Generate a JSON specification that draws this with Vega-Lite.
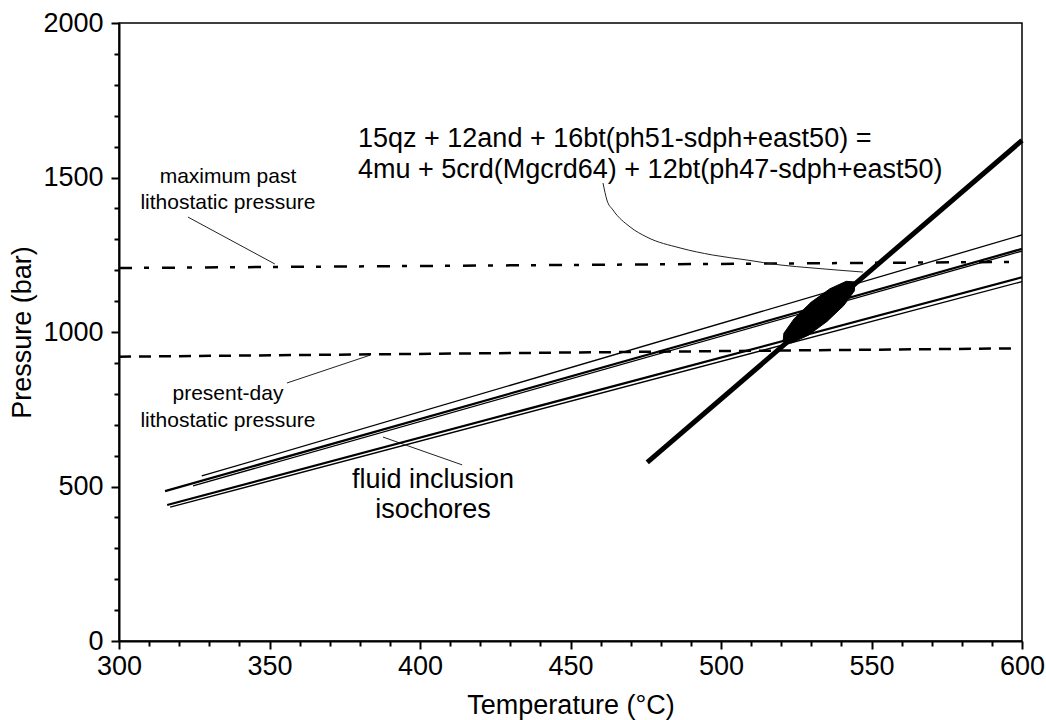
{
  "$schema": "https://vega.github.io/schema/vega-lite/v6.json",
  "width": 903,
  "height": 618,
  "autosize": {"type": "none"},
  "padding": {"left": 119, "top": 23, "right": 24, "bottom": 79},
  "background": "white",
  "config": {
    "view": {"stroke": "black", "strokeWidth": 1.5},
    "font": "Liberation Sans",
    "axis": {
      "grid": false,
      "domainColor": "black",
      "domainWidth": 2,
      "tickColor": "black",
      "tickWidth": 2,
      "labelColor": "black",
      "labelFont": "Liberation Sans",
      "labelFontSize": 27,
      "titleFont": "Liberation Sans",
      "titleFontSize": 27,
      "titleFontWeight": "normal",
      "titleColor": "black",
      "labelOverlap": false,
      "labelFlush": false
    }
  },
  "datasets": {
    "lines": [
      {"id": "reaction", "T": 475.5, "P": 578}, {"id": "reaction", "T": 600, "P": 1620},
      {"id": "A", "T": 327.5, "P": 534}, {"id": "A", "T": 600, "P": 1314},
      {"id": "B", "T": 315.3, "P": 485}, {"id": "B", "T": 600, "P": 1269},
      {"id": "B2", "T": 324.6, "P": 502}, {"id": "B2", "T": 600, "P": 1262},
      {"id": "D", "T": 316, "P": 440}, {"id": "D", "T": 600, "P": 1177},
      {"id": "E", "T": 317, "P": 433}, {"id": "E", "T": 600, "P": 1163},
      {"id": "maxpast", "T": 300, "P": 1207}, {"id": "maxpast", "T": 600, "P": 1227},
      {"id": "present", "T": 300, "P": 920}, {"id": "present", "T": 597, "P": 947},
      {"id": "lead1", "T": 322.9, "P": 1372}, {"id": "lead1", "T": 351.8, "P": 1220},
      {"id": "lead2", "T": 355.8, "P": 835}, {"id": "lead2", "T": 383.4, "P": 925},
      {"id": "lead3", "T": 387.7, "P": 660}, {"id": "lead3", "T": 414, "P": 570}
    ],
    "curve": [
      {"T": 460.8, "P": 1482}, {"T": 462.1, "P": 1427}, {"T": 464.1, "P": 1395},
      {"T": 469.8, "P": 1340}, {"T": 475.4, "P": 1307}, {"T": 486.4, "P": 1272},
      {"T": 497.3, "P": 1249}, {"T": 508.6, "P": 1233}, {"T": 519.6, "P": 1217},
      {"T": 530.6, "P": 1207}, {"T": 547.2, "P": 1194}
    ],
    "ellipse": [
      {"i": 0, "T": 544.5, "P": 1162}, {"i": 1, "T": 544.3, "P": 1133},
      {"i": 2, "T": 540.8, "P": 1086}, {"i": 3, "T": 535.2, "P": 1034},
      {"i": 4, "T": 528.9, "P": 989}, {"i": 5, "T": 523.5, "P": 965},
      {"i": 6, "T": 520.6, "P": 968}, {"i": 7, "T": 520.9, "P": 996},
      {"i": 8, "T": 524.3, "P": 1043}, {"i": 9, "T": 529.9, "P": 1096},
      {"i": 10, "T": 536.2, "P": 1140}, {"i": 11, "T": 541.6, "P": 1164},
      {"i": 12, "T": 544.5, "P": 1162}
    ],
    "labels": [
      {"T": 336.2, "P": 1482, "text": "maximum past"},
      {"T": 336.2, "P": 1398, "text": "lithostatic pressure"},
      {"T": 336.2, "P": 780, "text": "present-day"},
      {"T": 336.2, "P": 693, "text": "lithostatic pressure"}
    ],
    "biglabels": [
      {"T": 404.3, "P": 495, "text": "fluid inclusion"},
      {"T": 404.3, "P": 398, "text": "isochores"}
    ],
    "equation": [
      {"T": 379.4, "P": 1599, "text": "15qz + 12and + 16bt(ph51-sdph+east50) ="},
      {"T": 379.4, "P": 1498, "text": "4mu + 5crd(Mgcrd64) + 12bt(ph47-sdph+east50)"}
    ]
  },
  "encoding": {
    "x": {
      "field": "T", "type": "quantitative",
      "scale": {"domain": [300, 600], "nice": false, "zero": false},
      "axis": {
        "title": "Temperature (°C)",
        "values": [300,310,320,330,340,350,360,370,380,390,400,410,420,430,440,450,460,470,480,490,500,510,520,530,540,550,560,570,580,590,600],
        "labelExpr": "datum.value % 50 === 0 ? datum.label : ''",
        "tickSize": {"condition": {"test": "datum.value % 50 === 0", "value": 8}, "value": 5},
        "labelPadding": 4,
        "titlePadding": 13,
        "format": "d"
      }
    },
    "y": {
      "field": "P", "type": "quantitative",
      "scale": {"domain": [0, 2000], "nice": false},
      "axis": {
        "title": "Pressure (bar)",
        "values": [0,100,200,300,400,500,600,700,800,900,1000,1100,1200,1300,1400,1500,1600,1700,1800,1900,2000],
        "labelExpr": "datum.value % 500 === 0 ? datum.label : ''",
        "tickSize": {"condition": {"test": "datum.value % 500 === 0", "value": 8}, "value": 5},
        "labelPadding": 8,
        "titlePadding": 6,
        "format": "d"
      }
    }
  },
  "layer": [
    {
      "data": {"name": "lines"},
      "transform": [{"filter": "indexof(['A','B2','E'], datum.id) >= 0"}],
      "mark": {"type": "line", "color": "black", "strokeWidth": 1.3},
      "encoding": {"detail": {"field": "id"}}
    },
    {
      "data": {"name": "lines"},
      "transform": [{"filter": "indexof(['lead1','lead2','lead3'], datum.id) >= 0"}],
      "mark": {"type": "line", "color": "#222", "strokeWidth": 1},
      "encoding": {"detail": {"field": "id"}}
    },
    {
      "data": {"name": "lines"},
      "transform": [{"filter": "indexof(['B','D'], datum.id) >= 0"}],
      "mark": {"type": "line", "color": "black", "strokeWidth": 2.2},
      "encoding": {"detail": {"field": "id"}}
    },
    {
      "data": {"name": "lines"},
      "transform": [{"filter": "datum.id === 'reaction'"}],
      "mark": {"type": "line", "color": "black", "strokeWidth": 5},
      "encoding": {}
    },
    {
      "data": {"name": "lines"},
      "transform": [{"filter": "datum.id === 'maxpast'"}],
      "mark": {"type": "line", "color": "black", "strokeWidth": 2.5, "strokeDash": [13, 12, 5, 13]},
      "encoding": {}
    },
    {
      "data": {"name": "lines"},
      "transform": [{"filter": "datum.id === 'present'"}],
      "mark": {"type": "line", "color": "black", "strokeWidth": 2.5, "strokeDash": [12, 8]},
      "encoding": {}
    },
    {
      "data": {"name": "curve"},
      "mark": {"type": "line", "color": "#222", "strokeWidth": 1, "interpolate": "monotone"},
      "encoding": {}
    },
    {
      "data": {"name": "ellipse"},
      "mark": {"type": "line", "color": "black", "fill": "black", "strokeWidth": 1, "interpolate": "linear"},
      "encoding": {"order": {"field": "i", "type": "quantitative"}}
    },
    {
      "data": {"name": "labels"},
      "mark": {"type": "text", "font": "Liberation Sans", "fontSize": 21, "align": "center", "baseline": "alphabetic", "color": "black"},
      "encoding": {"text": {"field": "text"}}
    },
    {
      "data": {"name": "biglabels"},
      "mark": {"type": "text", "font": "Liberation Sans", "fontSize": 27, "align": "center", "baseline": "alphabetic", "color": "black"},
      "encoding": {"text": {"field": "text"}}
    },
    {
      "data": {"name": "equation"},
      "mark": {"type": "text", "font": "Liberation Sans", "fontSize": 27, "align": "left", "baseline": "alphabetic", "color": "black"},
      "encoding": {"text": {"field": "text"}}
    }
  ]
}
